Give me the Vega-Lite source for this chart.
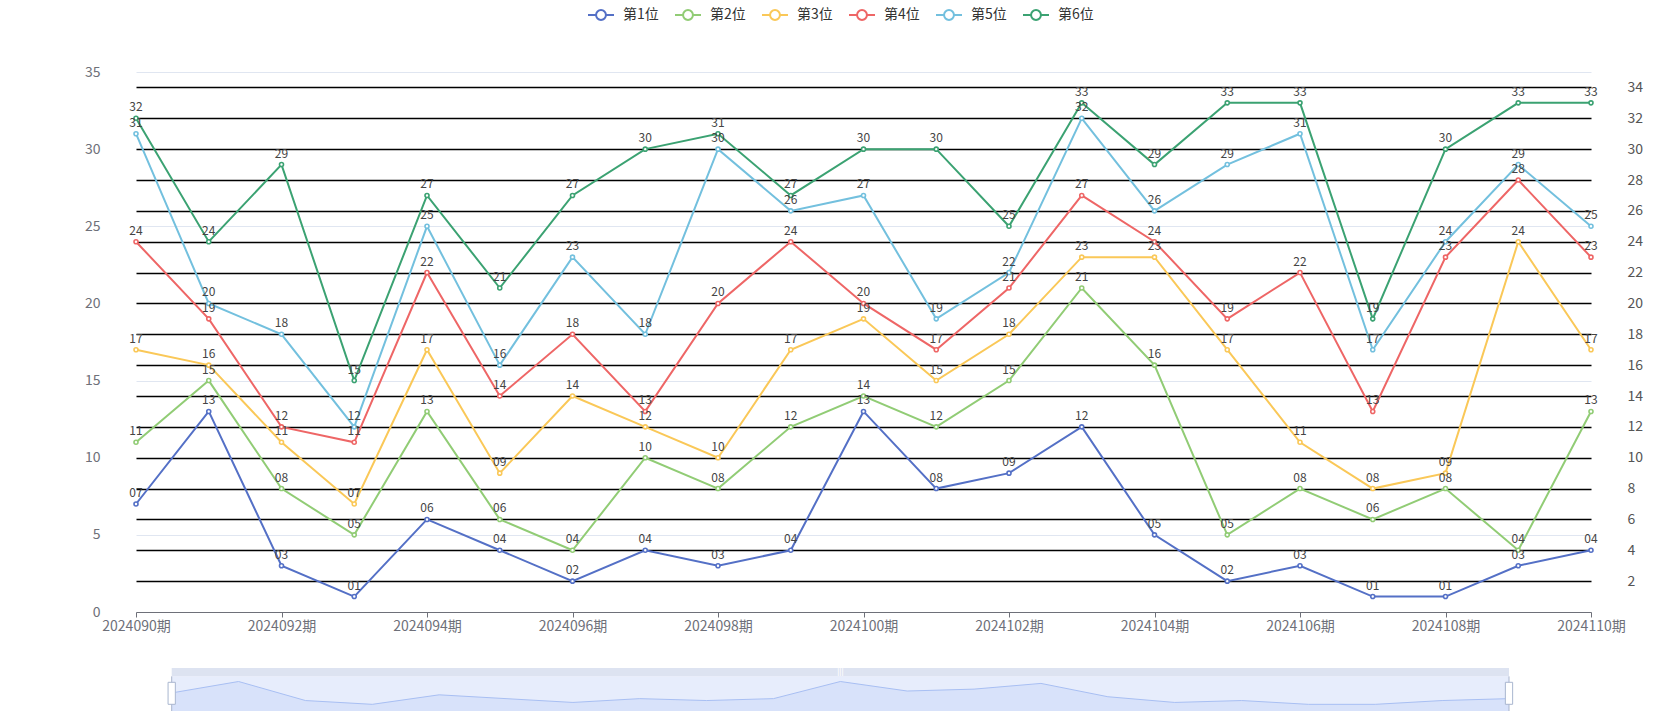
{
  "$schema": "https://vega.github.io/schema/vega-lite/v6.json",
  "padding": {"left": 84, "top": 1, "right": 5, "bottom": 4},
  "background": "white",
  "config": {"font": "Noto Sans CJK SC", "view": {"stroke": null}},
  "datasets": {
    "draws": [
      {"period": "2024090期", "series": "第1位", "value": 7}, {"period": "2024091期", "series": "第1位", "value": 13}, {"period": "2024092期", "series": "第1位", "value": 3}, {"period": "2024093期", "series": "第1位", "value": 1}, {"period": "2024094期", "series": "第1位", "value": 6}, {"period": "2024095期", "series": "第1位", "value": 4}, {"period": "2024096期", "series": "第1位", "value": 2}, {"period": "2024097期", "series": "第1位", "value": 4}, {"period": "2024098期", "series": "第1位", "value": 3}, {"period": "2024099期", "series": "第1位", "value": 4}, {"period": "2024100期", "series": "第1位", "value": 13}, {"period": "2024101期", "series": "第1位", "value": 8}, {"period": "2024102期", "series": "第1位", "value": 9}, {"period": "2024103期", "series": "第1位", "value": 12}, {"period": "2024104期", "series": "第1位", "value": 5}, {"period": "2024105期", "series": "第1位", "value": 2}, {"period": "2024106期", "series": "第1位", "value": 3}, {"period": "2024107期", "series": "第1位", "value": 1}, {"period": "2024108期", "series": "第1位", "value": 1}, {"period": "2024109期", "series": "第1位", "value": 3}, {"period": "2024110期", "series": "第1位", "value": 4},
      {"period": "2024090期", "series": "第2位", "value": 11}, {"period": "2024091期", "series": "第2位", "value": 15}, {"period": "2024092期", "series": "第2位", "value": 8}, {"period": "2024093期", "series": "第2位", "value": 5}, {"period": "2024094期", "series": "第2位", "value": 13}, {"period": "2024095期", "series": "第2位", "value": 6}, {"period": "2024096期", "series": "第2位", "value": 4}, {"period": "2024097期", "series": "第2位", "value": 10}, {"period": "2024098期", "series": "第2位", "value": 8}, {"period": "2024099期", "series": "第2位", "value": 12}, {"period": "2024100期", "series": "第2位", "value": 14}, {"period": "2024101期", "series": "第2位", "value": 12}, {"period": "2024102期", "series": "第2位", "value": 15}, {"period": "2024103期", "series": "第2位", "value": 21}, {"period": "2024104期", "series": "第2位", "value": 16}, {"period": "2024105期", "series": "第2位", "value": 5}, {"period": "2024106期", "series": "第2位", "value": 8}, {"period": "2024107期", "series": "第2位", "value": 6}, {"period": "2024108期", "series": "第2位", "value": 8}, {"period": "2024109期", "series": "第2位", "value": 4}, {"period": "2024110期", "series": "第2位", "value": 13},
      {"period": "2024090期", "series": "第3位", "value": 17}, {"period": "2024091期", "series": "第3位", "value": 16}, {"period": "2024092期", "series": "第3位", "value": 11}, {"period": "2024093期", "series": "第3位", "value": 7}, {"period": "2024094期", "series": "第3位", "value": 17}, {"period": "2024095期", "series": "第3位", "value": 9}, {"period": "2024096期", "series": "第3位", "value": 14}, {"period": "2024097期", "series": "第3位", "value": 12}, {"period": "2024098期", "series": "第3位", "value": 10}, {"period": "2024099期", "series": "第3位", "value": 17}, {"period": "2024100期", "series": "第3位", "value": 19}, {"period": "2024101期", "series": "第3位", "value": 15}, {"period": "2024102期", "series": "第3位", "value": 18}, {"period": "2024103期", "series": "第3位", "value": 23}, {"period": "2024104期", "series": "第3位", "value": 23}, {"period": "2024105期", "series": "第3位", "value": 17}, {"period": "2024106期", "series": "第3位", "value": 11}, {"period": "2024107期", "series": "第3位", "value": 8}, {"period": "2024108期", "series": "第3位", "value": 9}, {"period": "2024109期", "series": "第3位", "value": 24}, {"period": "2024110期", "series": "第3位", "value": 17},
      {"period": "2024090期", "series": "第4位", "value": 24}, {"period": "2024091期", "series": "第4位", "value": 19}, {"period": "2024092期", "series": "第4位", "value": 12}, {"period": "2024093期", "series": "第4位", "value": 11}, {"period": "2024094期", "series": "第4位", "value": 22}, {"period": "2024095期", "series": "第4位", "value": 14}, {"period": "2024096期", "series": "第4位", "value": 18}, {"period": "2024097期", "series": "第4位", "value": 13}, {"period": "2024098期", "series": "第4位", "value": 20}, {"period": "2024099期", "series": "第4位", "value": 24}, {"period": "2024100期", "series": "第4位", "value": 20}, {"period": "2024101期", "series": "第4位", "value": 17}, {"period": "2024102期", "series": "第4位", "value": 21}, {"period": "2024103期", "series": "第4位", "value": 27}, {"period": "2024104期", "series": "第4位", "value": 24}, {"period": "2024105期", "series": "第4位", "value": 19}, {"period": "2024106期", "series": "第4位", "value": 22}, {"period": "2024107期", "series": "第4位", "value": 13}, {"period": "2024108期", "series": "第4位", "value": 23}, {"period": "2024109期", "series": "第4位", "value": 28}, {"period": "2024110期", "series": "第4位", "value": 23},
      {"period": "2024090期", "series": "第5位", "value": 31}, {"period": "2024091期", "series": "第5位", "value": 20}, {"period": "2024092期", "series": "第5位", "value": 18}, {"period": "2024093期", "series": "第5位", "value": 12}, {"period": "2024094期", "series": "第5位", "value": 25}, {"period": "2024095期", "series": "第5位", "value": 16}, {"period": "2024096期", "series": "第5位", "value": 23}, {"period": "2024097期", "series": "第5位", "value": 18}, {"period": "2024098期", "series": "第5位", "value": 30}, {"period": "2024099期", "series": "第5位", "value": 26}, {"period": "2024100期", "series": "第5位", "value": 27}, {"period": "2024101期", "series": "第5位", "value": 19}, {"period": "2024102期", "series": "第5位", "value": 22}, {"period": "2024103期", "series": "第5位", "value": 32}, {"period": "2024104期", "series": "第5位", "value": 26}, {"period": "2024105期", "series": "第5位", "value": 29}, {"period": "2024106期", "series": "第5位", "value": 31}, {"period": "2024107期", "series": "第5位", "value": 17}, {"period": "2024108期", "series": "第5位", "value": 24}, {"period": "2024109期", "series": "第5位", "value": 29}, {"period": "2024110期", "series": "第5位", "value": 25},
      {"period": "2024090期", "series": "第6位", "value": 32}, {"period": "2024091期", "series": "第6位", "value": 24}, {"period": "2024092期", "series": "第6位", "value": 29}, {"period": "2024093期", "series": "第6位", "value": 15}, {"period": "2024094期", "series": "第6位", "value": 27}, {"period": "2024095期", "series": "第6位", "value": 21}, {"period": "2024096期", "series": "第6位", "value": 27}, {"period": "2024097期", "series": "第6位", "value": 30}, {"period": "2024098期", "series": "第6位", "value": 31}, {"period": "2024099期", "series": "第6位", "value": 27}, {"period": "2024100期", "series": "第6位", "value": 30}, {"period": "2024101期", "series": "第6位", "value": 30}, {"period": "2024102期", "series": "第6位", "value": 25}, {"period": "2024103期", "series": "第6位", "value": 33}, {"period": "2024104期", "series": "第6位", "value": 29}, {"period": "2024105期", "series": "第6位", "value": 33}, {"period": "2024106期", "series": "第6位", "value": 33}, {"period": "2024107期", "series": "第6位", "value": 19}, {"period": "2024108期", "series": "第6位", "value": 30}, {"period": "2024109期", "series": "第6位", "value": 33}, {"period": "2024110期", "series": "第6位", "value": 33}
    ]
  },
  "spacing": 34,
  "vconcat": [
    {
      "width": 1455,
      "height": 540,
      "data": {"name": "draws"},
      "layer": [
        {
          "encoding": {
            "x": {"field": "period", "type": "ordinal", "sort": null, "scale": {"type": "point", "padding": 0},
              "axis": {"title": null, "values": ["2024090期","2024092期","2024094期","2024096期","2024098期","2024100期","2024102期","2024104期","2024106期","2024108期","2024110期"], "labelAngle": 0, "labelOverlap": false, "labelFontSize": 14, "labelColor": "#6E7079", "domainColor": "#6E7079", "tickColor": "#6E7079", "tickSize": 5, "labelPadding": 2, "grid": false}},
            "y": {"field": "value", "type": "quantitative", "scale": {"domain": [0, 35], "nice": false},
              "axis": {"orient": "left", "title": null, "values": [0,5,10,15,20,25,30,35], "grid": true, "gridColor": "#E0E6F1", "gridWidth": 1, "domain": false, "ticks": false, "tickSize": 0, "labelPadding": 36, "labelFontSize": 14, "labelColor": "#6E7079"}}
          },
          "layer": [
            {
              "mark": {"type": "line", "strokeWidth": 2},
              "encoding": {
                "color": {"field": "series", "type": "nominal",
                  "scale": {"domain": ["第1位","第2位","第3位","第4位","第5位","第6位"], "range": ["#5470c6","#91cc75","#fac858","#ee6666","#73c0de","#3ba272"]},
                  "legend": {"orient": "none", "legendX": 451, "legendY": -71, "direction": "horizontal", "title": null, "padding": 0,
                    "symbolType": "M-1,0L-0.38,0M0.38,0L1,0M0.38,0A0.38,0.38 0 1 1 -0.38,0A0.38,0.38 0 1 1 0.38,0Z",
                    "symbolSize": 676, "symbolStrokeWidth": 2, "symbolFillColor": "#ffffff", "symbolOpacity": 1,
                    "labelFontSize": 14, "labelColor": "#333333", "labelOffset": 8, "columnPadding": 12}}
              }
            },
            {
              "mark": {"type": "point", "filled": false, "fill": "#ffffff", "size": 16, "strokeWidth": 1.6, "opacity": 1},
              "encoding": {
                "color": {"field": "series", "type": "nominal",
                  "scale": {"domain": ["第1位","第2位","第3位","第4位","第5位","第6位"], "range": ["#5470c6","#91cc75","#fac858","#ee6666","#73c0de","#3ba272"]}}
              }
            },
            {
              "mark": {"type": "text", "dy": -7, "baseline": "alphabetic", "fontSize": 12, "color": "#444444"},
              "encoding": {"text": {"field": "value", "type": "quantitative", "format": "02d"}}
            }
          ]
        },
        {
          "mark": {"type": "point", "opacity": 0},
          "encoding": {
            "x": {"field": "period", "type": "ordinal", "sort": null, "scale": {"type": "point", "padding": 0},
              "axis": {"title": null, "values": ["2024090期","2024092期","2024094期","2024096期","2024098期","2024100期","2024102期","2024104期","2024106期","2024108期","2024110期"], "labelAngle": 0, "labelOverlap": false, "labelFontSize": 14, "labelColor": "#6E7079", "domainColor": "#6E7079", "tickColor": "#6E7079", "tickSize": 5, "labelPadding": 2, "grid": false}},
            "y": {"field": "value", "type": "quantitative", "scale": {"domain": [0, 35], "nice": false},
              "axis": {"orient": "right", "title": null, "values": [2,4,6,8,10,12,14,16,18,20,22,24,26,28,30,32,34], "grid": true, "gridColor": "#000000", "gridWidth": 1.5, "domain": false, "ticks": false, "tickSize": 0, "labelPadding": 36, "labelFontSize": 14, "labelColor": "#555555"}}
          }
        }
      ],
      "resolve": {"scale": {"y": "independent"}}
    },
    {
      "width": 1374,
      "height": 43,
      "data": {"name": "draws"},
      "transform": [{"filter": {"field": "series", "equal": "第1位"}}],
      "encoding": {
        "x": {"field": "period", "type": "ordinal", "sort": null, "scale": {"type": "point", "padding": 0, "range": [35.7, 1373]}, "axis": null}
      },
      "layer": [
        {
          "mark": {"type": "area", "color": "#e7edfc"},
          "encoding": {"y": {"datum": 15.7, "type": "quantitative", "scale": {"domain": [-2.5, 20.1], "nice": false, "zero": false}, "axis": null}, "y2": {"datum": -2.5}}
        },
        {
          "mark": {"type": "area", "color": "#dde3f1"},
          "encoding": {"y": {"datum": 20.1, "type": "quantitative", "scale": {"domain": [-2.5, 20.1], "nice": false, "zero": false}, "axis": null}, "y2": {"datum": 15.7}}
        },
        {
          "mark": {"type": "area", "color": "#d2ddf9", "line": {"color": "#a8bff3", "strokeWidth": 1}},
          "encoding": {"y": {"field": "value", "type": "quantitative", "scale": {"domain": [-2.5, 20.1], "nice": false, "zero": false}, "axis": null}, "y2": {"datum": -2.5}}
        },
        {
          "transform": [{"filter": {"field": "period", "oneOf": ["2024090期", "2024110期"]}}],
          "mark": {"type": "rule", "color": "#aab5cc", "strokeWidth": 1},
          "encoding": {"y": {"datum": 15.7, "type": "quantitative", "scale": {"domain": [-2.5, 20.1], "nice": false, "zero": false}, "axis": null}, "y2": {"datum": -2.5}}
        },
        {
          "transform": [{"filter": {"field": "period", "oneOf": ["2024090期", "2024110期"]}}],
          "mark": {"type": "point", "shape": "M-0.33,-1H0.33V1H-0.33Z", "size": 484, "filled": true, "fill": "#ffffff", "stroke": "#a9b6cf", "strokeWidth": 1, "opacity": 1},
          "encoding": {"y": {"datum": 6.8, "type": "quantitative", "scale": {"domain": [-2.5, 20.1], "nice": false, "zero": false}, "axis": null}}
        },
        {
          "transform": [{"filter": {"field": "period", "equal": "2024100期"}}],
          "mark": {"type": "text", "text": "|||", "color": "#ffffff", "fontSize": 7, "fontWeight": "bold"},
          "encoding": {"y": {"datum": 18.0, "type": "quantitative", "scale": {"domain": [-2.5, 20.1], "nice": false, "zero": false}, "axis": null}}
        }
      ]
    }
  ]
}
